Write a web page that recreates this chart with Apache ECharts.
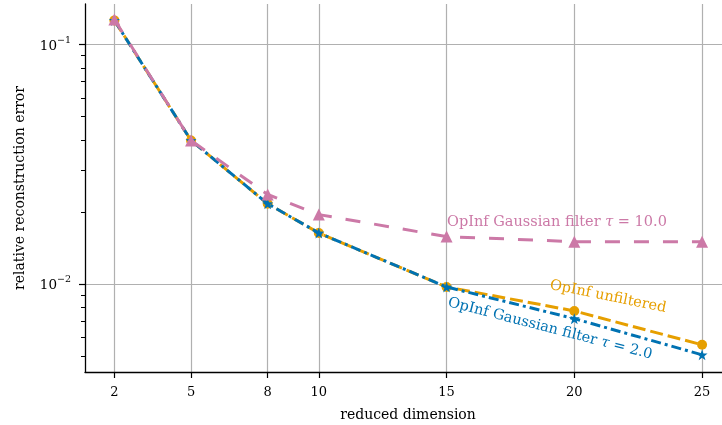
<!DOCTYPE html>
<html><head><meta charset="utf-8">
<script src="https://cdn.jsdelivr.net/npm/echarts@6/dist/echarts.min.js"></script>
<style>html,body{margin:0;padding:0;background:#fff}#c{width:722px;height:425px}</style>
</head><body><div id="c"></div>
<script>
// ---- data ----
const dims = [2, 5, 8, 10, 15, 20, 25];
const unfiltered = [0.126, 0.0397, 0.0216, 0.0163, 0.0097, 0.0077, 0.00556];
const gauss2 = [0.126, 0.0397, 0.0216, 0.0163, 0.0097, 0.00715, 0.00505];
const gauss10 = [0.127, 0.0397, 0.0236, 0.01945, 0.01574, 0.0150, 0.0150];
const xTicks = [2, 5, 8, 10, 15, 20, 25];
const yMajor = [0.01, 0.1];
const yMinor = [0.005, 0.006, 0.007, 0.008, 0.009, 0.02, 0.03, 0.04, 0.05, 0.06, 0.07, 0.08, 0.09];
const seriesNames = ['OpInf unfiltered', 'OpInf Gaussian filter τ = 2.0', 'OpInf Gaussian filter τ = 10.0'];
// annotation anchors in data coordinates
const annotations = [
  {text: 'OpInf Gaussian filter ', tau: 'τ', rest: ' = 10.0', x: 15.02, y: 0.0180, color: '#CC79A7', rot: 0, align: 'left'},
  {text: 'OpInf unfiltered', tau: '', rest: '', x: 21.32, y: 0.00883, color: '#E69F00', rot: -0.20, align: 'center'},
  {text: 'OpInf Gaussian filter ', tau: 'τ', rest: ' = 2.0', x: 19.05, y: 0.00649, color: '#0072B2', rot: -0.253, align: 'center'}
];

const FONT = '"DejaVu Serif", serif';
const chart = echarts.init(document.getElementById('c'), null, {renderer: 'canvas'});

function starPath() {
  const pts = [];
  for (let i = 0; i < 10; i++) {
    const r = i % 2 === 0 ? 50 : 20;
    const a = -Math.PI / 2 + i * Math.PI / 5;
    pts.push((50 + r * Math.cos(a)).toFixed(2) + ',' + (50 + r * Math.sin(a)).toFixed(2));
  }
  return 'path://M' + pts.join('L') + 'Z';
}
const pair = (vals) => dims.map((d, i) => [d, vals[i]]);

const option = {
  animation: false,
  backgroundColor: '#fff',
  grid: {left: 85, top: 4, right: 0, height: 368, containLabel: false, outerBoundsMode: 'none'},
  xAxis: {
    type: 'value', min: 0.85, max: 25.78,
    name: 'reduced dimension', nameLocation: 'middle', nameGap: 36,
    nameTextStyle: {fontFamily: FONT, fontSize: 14, color: '#000', padding: [0, 0, 0, 9]},
    axisLine: {show: true, lineStyle: {color: '#000', width: 1.3}},
    axisTick: {show: true, inside: false, length: 6, lineStyle: {color: '#000', width: 1.2}, customValues: xTicks},
    axisLabel: {fontFamily: FONT, fontSize: 13, color: '#000', margin: 14, customValues: xTicks},
    splitLine: {show: true, lineStyle: {color: '#b0b0b0', width: 1.2}}
  },
  yAxis: {
    type: 'log', logBase: 10, min: 0.00428, max: 0.1475,
    name: 'relative reconstruction error', nameLocation: 'middle', nameGap: 58,
    nameTextStyle: {fontFamily: FONT, fontSize: 14, color: '#000'},
    axisLine: {show: true, lineStyle: {color: '#000', width: 1.3}},
    axisTick: {show: true, inside: false, length: 6, lineStyle: {color: '#000', width: 1.2}, customValues: yMajor},
    axisLabel: {
      margin: 14, customValues: yMajor,
      formatter: (v) => '{b|10}{s|−' + Math.round(-Math.log10(v)) + '}',
      rich: {
        b: {fontFamily: FONT, fontSize: 13.5, color: '#000', lineHeight: 18, verticalAlign: 'bottom'},
        s: {fontFamily: FONT, fontSize: 9.5, color: '#000', lineHeight: 18, verticalAlign: 'top'}
      }
    },
    splitLine: {show: true, lineStyle: {color: '#b0b0b0', width: 1.2}}
  },
  series: [
    {
      name: seriesNames[0], type: 'line', data: pair(unfiltered),
      symbol: 'circle', symbolSize: 10, showAllSymbol: true,
      lineStyle: {color: '#E69F00', width: 3, type: [13, 5]},
      itemStyle: {color: '#E69F00', borderWidth: 0}, z: 3
    },
    {
      name: seriesNames[1], type: 'line', data: pair(gauss2),
      symbol: starPath(), symbolSize: 11, showAllSymbol: true,
      lineStyle: {color: '#0072B2', width: 3, type: [10, 4, 3, 4]},
      itemStyle: {color: '#0072B2', borderWidth: 0}, z: 4
    },
    {
      name: seriesNames[2], type: 'line', data: pair(gauss10),
      symbol: 'triangle', symbolSize: 12, showAllSymbol: true,
      lineStyle: {color: '#CC79A7', width: 3, type: [15, 14]},
      itemStyle: {color: '#CC79A7', borderWidth: 0}, z: 5
    }
  ]
};
chart.setOption(option);

const graphics = annotations.map((a) => {
  const p = chart.convertToPixel({xAxisIndex: 0, yAxisIndex: 0}, [a.x, a.y]);
  return {
    type: 'text', x: p[0], y: p[1], rotation: a.rot, z: 10,
    style: {
      text: '{n|' + a.text + '}' + (a.tau ? '{t|' + a.tau + '}{n|' + a.rest + '}' : ''),
      align: a.align, verticalAlign: 'middle',
      rich: {
        n: {fontFamily: FONT, fontSize: 14.5, fill: a.color, color: a.color},
        t: {fontFamily: FONT, fontSize: 14.5, fontStyle: 'italic', fill: a.color, color: a.color}
      }
    }
  };
});
// minor log ticks placed through the y scale
const axisX = chart.convertToPixel({xAxisIndex: 0}, 0.85);
yMinor.forEach((v) => {
  const py = Math.round(chart.convertToPixel({yAxisIndex: 0}, v)) + 0.5;
  graphics.push({
    type: 'line', z: 10, silent: true,
    shape: {x1: axisX - 4, y1: py, x2: axisX, y2: py},
    style: {stroke: '#000', lineWidth: 1}
  });
});
chart.setOption({graphic: graphics});
</script>
</body></html>
